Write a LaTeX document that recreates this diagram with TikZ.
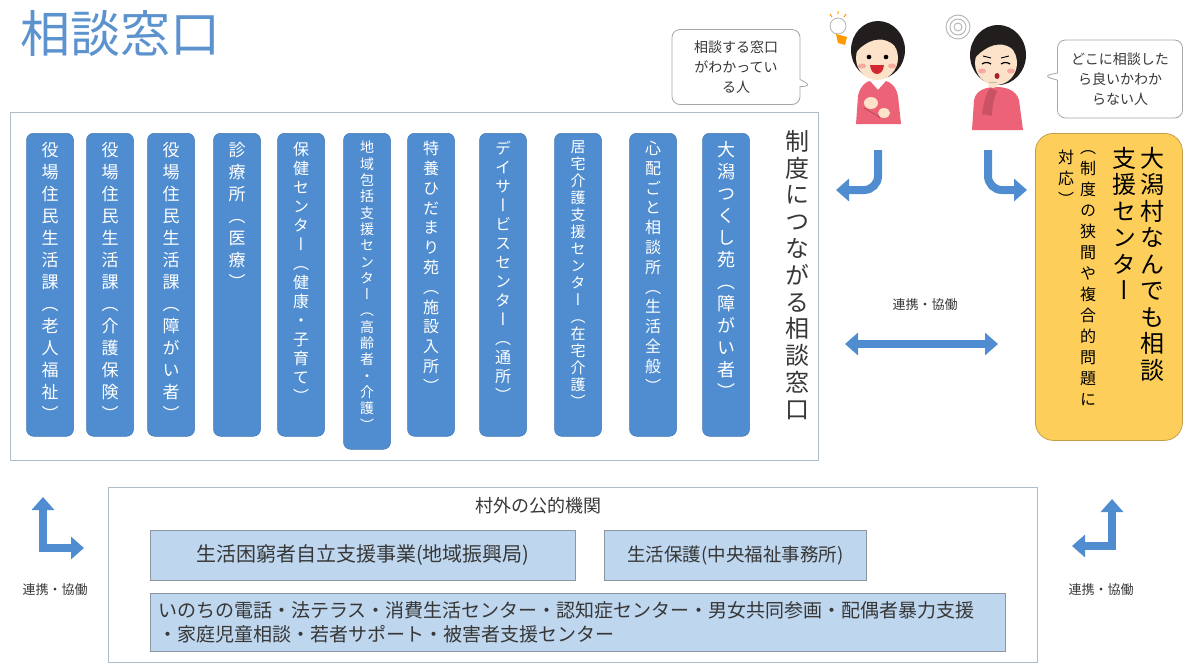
\documentclass[tikz,border=0pt]{standalone}
\usepackage{fontspec}
\setmainfont{Noto Sans CJK JP}
\newfontfamily\vjp[RawFeature=+vert]{Noto Sans CJK JP}
\usetikzlibrary{positioning,arrows.meta,shapes.callouts}

\definecolor{pillblue}{RGB}{79,141,208}
\definecolor{titleblue}{RGB}{92,146,206}
\definecolor{framegray}{RGB}{176,188,200}
\definecolor{paleblue}{RGB}{190,214,238}
\definecolor{boxgray}{RGB}{140,150,162}
\definecolor{centeryellow}{RGB}{253,207,90}
\definecolor{centeredge}{RGB}{196,158,70}
\definecolor{inkgray}{RGB}{55,55,55}
\definecolor{skin}{RGB}{252,226,200}
\definecolor{hair}{RGB}{35,30,30}
\definecolor{shirt}{RGB}{236,98,118}
\definecolor{cheek}{RGB}{245,170,160}
\definecolor{lipred}{RGB}{210,40,50}

% one character per line, top to bottom
\makeatletter
\newcommand\vertstack[1]{\vtop{\lineskiplimit=-\maxdimen\vs@next#1\relax}}
\def\vs@next#1{\ifx\relax#1\else\hbox to 1em{\hss#1\hss}\expandafter\vs@next\fi}
\makeatother

\tikzstyle{pill}=[shape=rectangle,
                  rounded corners=7pt,
                  draw=pillblue!85!black,
                  fill=pillblue,
                  line width=0.5pt,
                  minimum width=47pt,
                  inner sep=0pt]
\tikzstyle{ptext}=[text=white,
                   inner sep=0pt]
\tikzstyle{frame}=[shape=rectangle,
                   draw=framegray,
                   line width=0.8pt,
                   inner sep=0pt]
\tikzstyle{pubbox}=[shape=rectangle,
                    draw=boxgray,
                    fill=paleblue,
                    line width=0.7pt,
                    text=inkgray,
                    font=\fontsize{18.5}{24}\selectfont]
\tikzstyle{bubble}=[rectangle callout,
                    rounded corners=8pt,
                    draw=gray!70,
                    fill=white,
                    line width=0.8pt,
                    align=center,
                    text=inkgray,
                    inner sep=2pt,
                    font=\fontsize{14}{20}\selectfont]
\tikzstyle{link}=[text=inkgray,
                  font=\fontsize{13}{16}\selectfont]
\tikzstyle{flow}=[draw=pillblue,
                  line width=8pt,
                  -{Triangle[width=22pt,length=13pt]}]
\tikzstyle{flowboth}=[draw=pillblue,
                      line width=8pt,
                      {Triangle[width=22pt,length=13pt]}-{Triangle[width=22pt,length=13pt]}]

\begin{document}
\begin{tikzpicture}[x=1pt,y=-1pt]
\useasboundingbox (0,0) rectangle (1185,664);

% heading
\node[text=titleblue, font=\fontsize{50}{56}\selectfont, inner sep=0pt, anchor=base west] (title) at (20,52) {相談窓口};

% windows inside the village
\node[frame, minimum width=808pt, minimum height=348pt, anchor=north west] (inside) at (10,112) {};

\node[pill, minimum height=303pt, anchor=north] (p1)  at (50,133)  {};
\node[pill, minimum height=303pt, anchor=north] (p2)  at (110,133) {};
\node[pill, minimum height=303pt, anchor=north] (p3)  at (171,133) {};
\node[pill, minimum height=303pt, anchor=north] (p4)  at (237,133) {};
\node[pill, minimum height=303pt, anchor=north] (p5)  at (301,133) {};
\node[pill, minimum height=316pt, anchor=north] (p6)  at (367,133) {};
\node[pill, minimum height=303pt, anchor=north] (p7)  at (431,133) {};
\node[pill, minimum height=303pt, anchor=north] (p8)  at (503,133) {};
\node[pill, minimum height=303pt, anchor=north] (p9)  at (578,133) {};
\node[pill, minimum height=303pt, anchor=north] (p10) at (653,133) {};
\node[pill, minimum height=303pt, anchor=north] (p11) at (726,133) {};

\node[ptext, font=\vjp\fontsize{17}{22}\selectfont,   below=9pt of p1.north]  (t1)  {\vertstack{役場住民生活課（老人福祉）}};
\node[ptext, font=\vjp\fontsize{17}{22}\selectfont,   below=9pt of p2.north]  (t2)  {\vertstack{役場住民生活課（介護保険）}};
\node[ptext, font=\vjp\fontsize{17}{22}\selectfont,   below=9pt of p3.north]  (t3)  {\vertstack{役場住民生活課（障がい者）}};
\node[ptext, font=\vjp\fontsize{17}{22}\selectfont,   below=9pt of p4.north]  (t4)  {\vertstack{診療所（医療）}};
\node[ptext, font=\vjp\fontsize{16}{19}\selectfont,   below=9pt of p5.north]  (t5)  {\vertstack{保健センター（健康・子育て）}};
\node[ptext, font=\vjp\fontsize{14}{16.3}\selectfont, below=8pt of p6.north]  (t6)  {\vertstack{地域包括支援センター（高齢者・介護）}};
\node[ptext, font=\vjp\fontsize{16}{19.8}\selectfont, below=8pt of p7.north]  (t7)  {\vertstack{特養ひだまり苑（施設入所）}};
\node[ptext, font=\vjp\fontsize{16}{19}\selectfont,   below=8pt of p8.north]  (t8)  {\vertstack{デイサービスセンター（通所）}};
\node[ptext, font=\vjp\fontsize{15}{17}\selectfont,   below=8pt of p9.north]  (t9)  {\vertstack{居宅介護支援センター（在宅介護）}};
\node[ptext, font=\vjp\fontsize{16}{19.8}\selectfont, below=8pt of p10.north] (t10) {\vertstack{心配ごと相談所（生活全般）}};
\node[ptext, font=\vjp\fontsize{18}{22}\selectfont,   below=8pt of p11.north] (t11) {\vertstack{大潟つくし苑（障がい者）}};

\node[text=inkgray, inner sep=0pt, font=\vjp\fontsize{24}{26.8}\selectfont, anchor=north] (system) at (797,130) {\vertstack{制度につながる相談窓口}};

% village support center
\node[shape=rectangle, rounded corners=18pt, draw=centeredge, fill=centeryellow, line width=0.8pt,
      minimum width=147pt, minimum height=307pt, anchor=north west] (center) at (1035,133) {};
\node[text=black, inner sep=0pt, font=\vjp\fontsize{24}{26.5}\selectfont, anchor=north] (c1) at (1152,147) {\vertstack{大潟村なんでも相談}};
\node[text=black, inner sep=0pt, font=\vjp\fontsize{24}{26.5}\selectfont, anchor=north] (c2) at (1124,147) {\vertstack{支援センター}};
\node[text=black, inner sep=0pt, font=\vjp\fontsize{16}{21}\selectfont,   anchor=north] (c3) at (1088,150) {\vertstack{（制度の狭間や複合的問題に}};
\node[text=black, inner sep=0pt, font=\vjp\fontsize{16}{21}\selectfont,   anchor=north] (c4) at (1066,150) {\vertstack{対応）}};

% speech bubbles
\node[bubble, callout absolute pointer={(812,86)}, minimum width=128pt, minimum height=75pt] (b1) at (736,67) {相談する窓口\\がわかってい\\る人};
\node[bubble, callout absolute pointer={(1043,76)}, minimum width=125pt, minimum height=78pt] (b2) at (1120,79) {どこに相談した\\ら良いかわか\\らない人};

% person who knows where to go
\fill[hair] (878,50) ellipse (27pt and 29pt);
\fill[skin] (877,58) ellipse (21pt and 22pt);
\fill[hair] (855,54) .. controls (855,27) and (899,25) .. (901,54) .. controls (894,41) and (882,36) .. (869,42) .. controls (863,45) and (858,49) .. cycle;
\fill[black] (869,57) circle (2.3pt);
\fill[black] (886,57) circle (2.3pt);
\fill[cheek] (862,66) ellipse (4pt and 2.5pt);
\fill[cheek] (892,66) ellipse (4pt and 2.5pt);
\fill[lipred] (870,65) .. controls (871,77) and (883,77) .. (884,65) -- cycle;
\fill[white] (870,82) -- (886,82) -- (878,90) -- cycle;
\fill[shirt] (856,124) -- (858,96) .. controls (860,85) and (868,81) .. (870,81) -- (878,90) -- (886,81) .. controls (890,82) and (896,86) .. (898,96) -- (901,124) -- cycle;
\fill[skin] (871,103) ellipse (7pt and 6pt);
\fill[skin] (884,113) ellipse (6pt and 5pt);
\draw[shirt!70!black, line width=0.6pt] (864,108) .. controls (870,112) and (876,114) .. (880,118);
% light bulb
\fill[white, draw=gray!60, line width=0.8pt] (838,26) circle (8pt);
\fill[orange!80!yellow] (836,34) -- (847,37) -- (845,45) -- (838,43) -- cycle;
\draw[orange!80!yellow, line width=1pt] (830,14) -- (832,17) (838,11) -- (838,14) (846,14) -- (844,17);

% person who does not know where to go
\fill[hair] (998,55) ellipse (28pt and 30pt);
\fill[skin] (996,63) ellipse (21pt and 22pt);
\fill[hair] (974,59) .. controls (974,31) and (1019,29) .. (1021,59) .. controls (1014,46) and (1002,41) .. (989,47) .. controls (983,50) and (978,54) .. cycle;
\draw[black, line width=1.2pt] (982,64) .. controls (985,62) and (988,62) .. (991,64);
\draw[black, line width=1.2pt] (1001,64) .. controls (1004,62) and (1007,62) .. (1010,64);
\draw[black, line width=0.9pt] (983,56) -- (991,58);
\draw[black, line width=0.9pt] (1001,58) -- (1009,56);
\fill[cheek] (982,71) ellipse (4pt and 2.5pt);
\fill[cheek] (1011,71) ellipse (4pt and 2.5pt);
\fill[lipred!80!black] (997,76) ellipse (2.5pt and 3pt);
\fill[shirt] (972,130) -- (974,100) .. controls (976,90) and (986,87) .. (996,87) .. controls (1006,87) and (1016,90) .. (1019,100) -- (1023,130) -- cycle;
\fill[shirt!85!black] (982,114) .. controls (984,100) and (987,92) .. (990,88) -- (997,91) .. controls (994,98) and (992,106) .. (992,116) -- cycle;
\fill[skin] (993,84) ellipse (5pt and 4pt);
\draw[skin!80!black, line width=0.6pt] (989,82) -- (997,82);
% thought swirl
\draw[gray!60, line width=0.9pt] (958,27) circle (4pt) (958,27) circle (8pt) (958,27) circle (12pt);

% arrows
\coordinate (k1) at (878,150);
\coordinate (k2) at (836,190);
\coordinate (u1) at (988,150);
\coordinate (u2) at (1027,190);
\coordinate (h1) at (845,344);
\coordinate (h2) at (998,344);
\coordinate (l1) at (43,497);
\coordinate (l2) at (84,548);
\coordinate (r1) at (1112,499);
\coordinate (r2) at (1072,546);

\draw[flow, rounded corners=14pt] (k1) |- (k2);
\draw[flow, rounded corners=14pt] (u1) |- (u2);
\draw[flowboth] (h1) -- (h2);
\draw[flowboth] (l1) |- (l2);
\draw[flowboth] (r1) |- (r2);

\node[link] (lk1) at (925,305)  {連携・協働};
\node[link] (lk2) at (55,590)   {連携・協働};
\node[link] (lk3) at (1101,590) {連携・協働};

% public bodies outside the village
\node[frame, minimum width=929pt, minimum height=175pt, anchor=north west] (outside) at (108,487) {};
\node[text=inkgray, font=\fontsize{18}{22}\selectfont] (outtitle) at (538,506) {村外の公的機関};
\node[pubbox, minimum width=425pt, minimum height=50pt, anchor=north west, font=\fontsize{20}{24}\selectfont] (poverty) at (150,530) {生活困窮者自立支援事業(地域振興局)};
\node[pubbox, minimum width=262pt, minimum height=50pt, anchor=north west] (welfare) at (604,530) {生活保護(中央福祉事務所)};
\node[pubbox, text width=839pt, inner sep=8pt, minimum height=58pt, align=left, anchor=north west, font=\fontsize{19}{24}\selectfont] (others) at (150,593)
     {いのちの電話・法テラス・消費生活センター・認知症センター・男女共同参画・配偶者暴力支援\\・家庭児童相談・若者サポート・被害者支援センター};

\end{tikzpicture}
\end{document}
